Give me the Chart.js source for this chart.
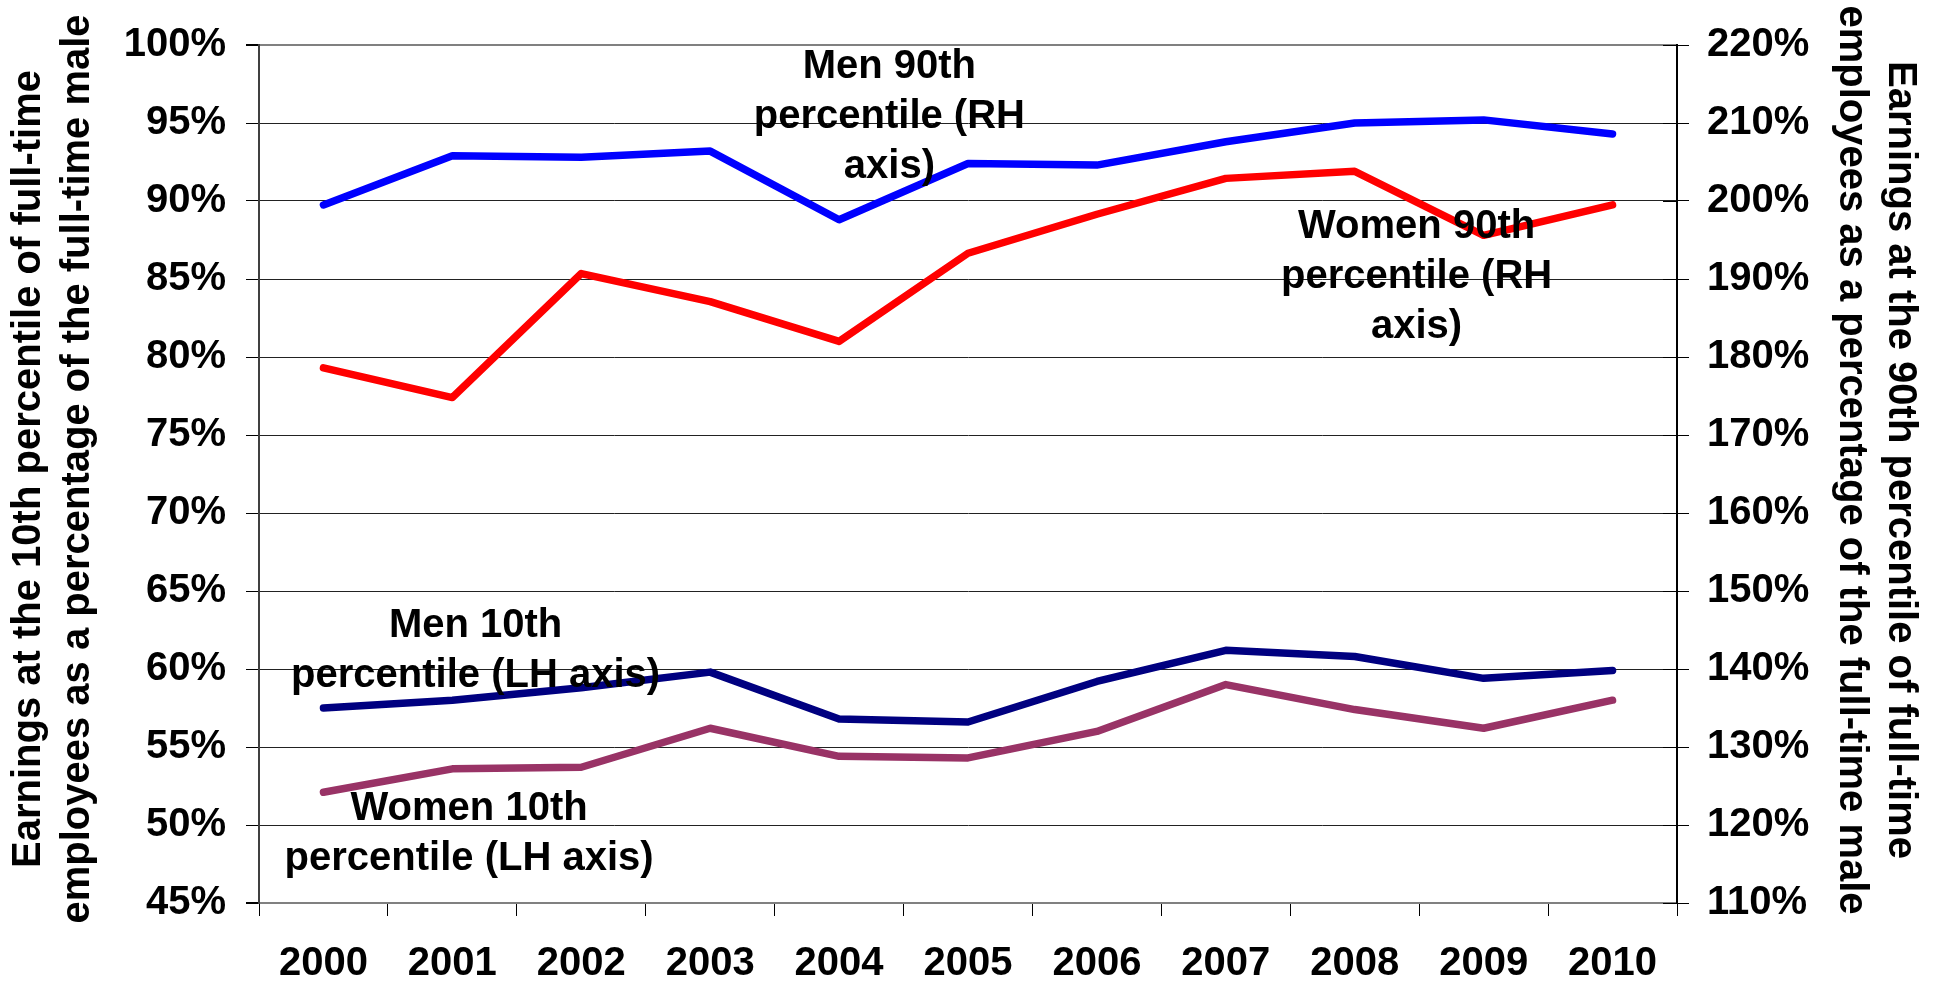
<!DOCTYPE html>
<html>
<head>
<meta charset="utf-8">
<script src="https://cdn.jsdelivr.net/npm/chart.js@4.4.1/dist/chart.umd.min.js"></script>
<style>
  html, body { margin: 0; padding: 0; background: #fff; }
  #wrap { width: 1935px; height: 986px; }
</style>
</head>
<body>
<div id="wrap"><canvas id="chart" width="1935" height="986"></canvas></div>
<script>
// values
const years = ['2000', '2001', '2002', '2003', '2004', '2005', '2006', '2007', '2008', '2009', '2010'];
const men90 = [199.5, 205.8, 205.6, 206.4, 197.6, 204.8, 204.6, 207.6, 210.0, 210.4, 208.6];
const women90 = [178.6, 174.8, 190.7, 187.1, 182.0, 193.3, 198.3, 202.9, 203.8, 195.6, 199.5];
const men10 = [57.5, 58.0, 58.8, 59.8, 56.8, 56.6, 59.2, 61.2, 60.8, 59.4, 59.9];
const women10 = [52.1, 53.6, 53.7, 56.2, 54.4, 54.3, 56.0, 59.0, 57.4, 56.2, 58.0];

const leftTitle = ['Earnings at the 10th percentile of full-time', 'employees as a percentage of the full-time male'];
const rightTitle = ['Earnings at the 90th percentile of full-time', 'employees as a percentage of the full-time male'];

const FONT = '"Liberation Sans", Arial, sans-serif';

// in-chart series labels, placed in axis units (category index, axis value of first baseline)
const seriesNotes = [
  { lines: ['Men 90th', 'percentile (RH', 'axis)'], at: 4.39, value: 215.8, axis: 'yRight' },
  { lines: ['Women 90th', 'percentile (RH', 'axis)'], at: 8.48, value: 195.3, axis: 'yRight' },
  { lines: ['Men 10th', 'percentile (LH axis)'], at: 1.18, value: 62.05, axis: 'yLeft' },
  { lines: ['Women 10th', 'percentile (LH axis)'], at: 1.13, value: 50.3, axis: 'yLeft' }
];

const notesPlugin = {
  id: 'notes',
  afterDatasetsDraw(chart) {
    const { ctx } = chart;
    const x = chart.scales.x;
    ctx.save();
    ctx.font = 'bold 40px ' + FONT;
    ctx.fillStyle = '#000';
    ctx.textAlign = 'center';
    ctx.textBaseline = 'alphabetic';
    seriesNotes.forEach(n => {
      const px = x.left + (n.at + 0.5) * (x.width / years.length);
      const py = chart.scales[n.axis].getPixelForValue(n.value);
      n.lines.forEach((line, i) => ctx.fillText(line, px, py + i * 50));
    });
    ctx.restore();
  }
};

const axisTitlesPlugin = {
  id: 'axisTitles',
  afterDraw(chart) {
    const { ctx, width } = chart;
    ctx.save();
    ctx.font = 'bold 40px ' + FONT;
    ctx.fillStyle = '#000';
    ctx.textAlign = 'center';
    ctx.textBaseline = 'middle';

    ctx.translate(29, 469);
    ctx.rotate(-Math.PI / 2);
    leftTitle.forEach((line, i) => ctx.fillText(line, 0, i * 49));
    ctx.restore();

    ctx.save();
    ctx.font = 'bold 40px ' + FONT;
    ctx.fillStyle = '#000';
    ctx.textAlign = 'center';
    ctx.textBaseline = 'middle';
    ctx.translate(width - 35, 460);
    ctx.rotate(Math.PI / 2);
    rightTitle.forEach((line, i) => ctx.fillText(line, 0, i * 49));
    ctx.restore();
  }
};

// the right axis ticks cross the axis line
const innerTicksPlugin = {
  id: 'innerTicks',
  afterDraw(chart) {
    const { ctx, chartArea } = chart;
    const yr = chart.scales.yRight;
    ctx.save();
    ctx.strokeStyle = '#000';
    ctx.lineWidth = 1;
    yr.ticks.forEach(t => {
      const y = Math.round(yr.getPixelForValue(t.value)) + 0.5;
      ctx.beginPath();
      ctx.moveTo(chartArea.right - 14, y);
      ctx.lineTo(chartArea.right, y);
      ctx.stroke();
    });
    ctx.restore();
  }
};

const tickFont = { family: FONT, size: 40, weight: 'bold' };

new Chart(document.getElementById('chart'), {
  type: 'line',
  data: {
    labels: years,
    datasets: [
      { label: 'Men 90th percentile (RH axis)', data: men90, yAxisID: 'yRight', borderColor: '#0000ff' },
      { label: 'Women 90th percentile (RH axis)', data: women90, yAxisID: 'yRight', borderColor: '#ff0000' },
      { label: 'Men 10th percentile (LH axis)', data: men10, yAxisID: 'yLeft', borderColor: '#000080' },
      { label: 'Women 10th percentile (LH axis)', data: women10, yAxisID: 'yLeft', borderColor: '#993366' }
    ]
  },
  options: {
    responsive: false,
    animation: false,
    devicePixelRatio: 1,
    layout: { padding: { top: 45, left: 0, right: 0, bottom: 0 } },
    elements: {
      line: { borderWidth: 7.5, tension: 0, borderCapStyle: 'round', borderJoinStyle: 'round', fill: false },
      point: { radius: 0, hoverRadius: 0 }
    },
    plugins: {
      legend: { display: false },
      tooltip: { enabled: false }
    },
    scales: {
      x: {
        offset: true,
        grid: { offset: true, drawOnChartArea: false, tickLength: 13, color: '#000', lineWidth: 1 },
        border: { color: '#808080', width: 2 },
        ticks: { font: { ...tickFont, lineHeight: 1 }, color: '#000', padding: 28, maxRotation: 0, autoSkip: false },
        afterFit(s) { s.height = 83; }
      },
      yLeft: {
        position: 'left',
        min: 45,
        max: 100,
        grid: {
          tickLength: 13,
          tickColor: '#000',
          color: c => (c.tick.value === 100 || c.tick.value === 45) ? '#808080' : '#222',
          lineWidth: c => (c.tick.value === 100 || c.tick.value === 45) ? 2 : 1
        },
        border: { color: '#404040', width: 2 },
        ticks: { stepSize: 5, font: tickFont, color: '#000', padding: 20, callback: v => v + '%' },
        afterFit(s) { s.width = 259; }
      },
      yRight: {
        position: 'right',
        min: 110,
        max: 220,
        grid: { drawOnChartArea: false, tickLength: 12, color: '#000' },
        border: { color: '#000', width: 2 },
        ticks: { stepSize: 10, font: tickFont, color: '#000', padding: 18, callback: v => v + '%' },
        afterFit(s) { s.width = 258; }
      }
    }
  },
  plugins: [notesPlugin, axisTitlesPlugin, innerTicksPlugin]
});
</script>
</body>
</html>
